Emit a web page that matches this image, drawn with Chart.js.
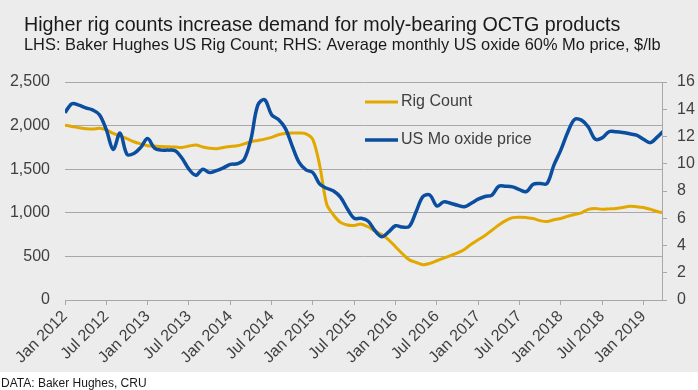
<!DOCTYPE html>
<html>
<head>
<meta charset="utf-8">
<script src="https://cdn.jsdelivr.net/npm/chart.js@4/dist/chart.umd.min.js"></script>
<style>
  body { margin: 0; background: #fff; }
  #wrap { width: 698px; height: 390px; }
</style>
</head>
<body>
<div id="wrap"><canvas id="chart" width="698" height="390"></canvas></div>
<script>
const TITLE = "Higher rig counts increase demand for moly-bearing OCTG products";
const SUBTITLE = "LHS: Baker Hughes US Rig Count; RHS: Average monthly US oxide 60% Mo price, $/lb";
const SOURCE = "DATA: Baker Hughes, CRU";

// monthly, Jan 2012 .. Apr 2019
const rigCount = [
  2005, 1990, 1975, 1965, 1960, 1970, 1950, 1910, 1880, 1850, 1815, 1790,
  1770, 1765, 1760, 1758, 1755, 1750, 1765, 1778, 1755, 1740, 1735, 1750,
  1760, 1768, 1790, 1815, 1830, 1845, 1865, 1895, 1910, 1915, 1915, 1905,
  1840, 1540, 1100, 975, 890, 860, 855, 870, 840, 790, 750, 690,
  610, 530, 460, 430, 405, 420, 450, 480, 510, 540, 580, 640,
  690, 740, 800, 860, 910, 945, 950, 945, 935, 910, 900, 920,
  935, 960, 980, 1000, 1040, 1050, 1040, 1045, 1050, 1060, 1075, 1070,
  1060, 1040, 1015, 1000
];
const moPrice = [
  13.75, 14.4, 14.3, 14.1, 13.95, 13.6, 12.5, 11.05, 12.25, 10.7, 10.75, 11.2,
  11.85, 11.15, 11.0, 11.0, 10.95, 10.4, 9.6, 9.15, 9.6, 9.35, 9.5, 9.7,
  9.95, 10.0, 10.3, 11.8, 14.3, 14.7, 13.6, 13.24, 12.6, 11.3, 10.1, 9.55,
  9.35, 8.5, 8.2, 8.0, 7.55, 6.7, 6.0, 6.0, 5.8, 5.1, 4.65, 5.0,
  5.45, 5.35, 5.4, 6.5, 7.6, 7.7, 6.9, 7.2, 7.1, 6.95, 6.85, 7.1,
  7.4, 7.6, 7.7, 8.35, 8.35, 8.3, 8.1, 7.95, 8.5, 8.55, 8.55, 9.9,
  11.0, 12.3, 13.25, 13.2, 12.7, 11.8, 11.9, 12.35, 12.35, 12.3, 12.2, 12.1,
  11.8, 11.55, 11.95, 12.45
];
const tickLabels = [
  "Jan 2012", "Jul 2012", "Jan 2013", "Jul 2013", "Jan 2014", "Jul 2014", "Jan 2015", "Jul 2015",
  "Jan 2016", "Jul 2016", "Jan 2017", "Jul 2017", "Jan 2018", "Jul 2018", "Jan 2019"
];
const seriesNames = ["Rig Count", "US Mo oxide price"];

const GOLD = "#e2a800";
const BLUE = "#0b4e9f";
const FONT = "'Liberation Sans', Arial, sans-serif";
const TEXT = "#404040";
const GRID = "#a8a8a8";

const toPoints = (values) => values.map((v, i) => ({ x: i, y: v }));

const chromePlugin = {
  id: "chrome",
  beforeDraw: (chart) => {
    const ctx = chart.ctx;
    ctx.save();
    ctx.fillStyle = "#ffffff";
    ctx.fillRect(0, 0, chart.width, chart.height);
    ctx.fillStyle = "#ececec";
    ctx.fillRect(0, 0, chart.width, 372);
    ctx.fillStyle = "#1a1a1a";
    ctx.textBaseline = "alphabetic";
    ctx.font = "19.7px " + FONT;
    ctx.fillText(TITLE, 24, 31);
    ctx.font = "16.4px " + FONT;
    ctx.fillText(SUBTITLE, 24, 50);
    ctx.font = "12px " + FONT;
    ctx.fillText(SOURCE, 1, 387);
    ctx.restore();
  },
  afterDatasetsDraw: (chart) => {
    const ctx = chart.ctx;
    const area = chart.chartArea;
    ctx.save();
    chart.data.datasets.forEach((ds, i) => {
      const y = area.top + 20 + i * 38;
      const x = area.left + 300;
      ctx.strokeStyle = ds.borderColor;
      ctx.lineWidth = ds.borderWidth;
      ctx.beginPath();
      ctx.moveTo(x, y);
      ctx.lineTo(x + 33, y);
      ctx.stroke();
      ctx.fillStyle = TEXT;
      ctx.font = "16px " + FONT;
      ctx.textBaseline = "middle";
      ctx.fillText(ds.label, x + 36, y);
    });
    ctx.restore();
  },
};

new Chart(document.getElementById("chart"), {
  type: "line",
  data: {
    datasets: [
      {
        label: seriesNames[0],
        data: toPoints(rigCount),
        yAxisID: "y",
        borderColor: GOLD,
        borderWidth: 3,
        pointRadius: 0,
        tension: 0.3,
        order: 1,
      },
      {
        label: seriesNames[1],
        data: toPoints(moPrice),
        yAxisID: "y2",
        borderColor: BLUE,
        borderWidth: 3.5,
        pointRadius: 0,
        tension: 0.35,
        order: 0,
      },
    ],
  },
  options: {
    responsive: false,
    animation: false,
    layout: { padding: { top: 82, left: 0, right: 0, bottom: 0 } },
    plugins: {
      legend: { display: false },
      tooltip: { enabled: false },
    },
    scales: {
      x: {
        type: "linear",
        min: 0,
        max: 86.7,
        afterFit: (scale) => { scale.height = 90; },
        border: { color: GRID },
        grid: { drawOnChartArea: false, drawTicks: true, tickLength: 5, color: GRID },
        ticks: {
          stepSize: 6,
          includeBounds: false,
          autoSkip: false,
          maxRotation: 45,
          minRotation: 45,
          padding: 2,
          color: TEXT,
          font: { family: FONT, size: 16 },
          callback: (v) => tickLabels[v / 6],
        },
      },
      y: {
        position: "left",
        min: 0,
        max: 2500,
        afterFit: (scale) => { scale.width = 65; },
        border: { display: false },
        grid: { color: GRID, drawTicks: false },
        ticks: {
          stepSize: 500,
          padding: 15,
          color: TEXT,
          font: { family: FONT, size: 16 },
          callback: (v) => v.toLocaleString("en-US"),
        },
      },
      y2: {
        position: "right",
        min: 0,
        max: 16,
        afterFit: (scale) => { scale.width = 36; },
        border: { color: GRID },
        grid: { drawOnChartArea: false, drawTicks: true, tickLength: 5, color: GRID },
        ticks: {
          stepSize: 2,
          padding: 10,
          color: TEXT,
          font: { family: FONT, size: 16 },
        },
      },
    },
  },
  plugins: [chromePlugin],
});
</script>
</body>
</html>
